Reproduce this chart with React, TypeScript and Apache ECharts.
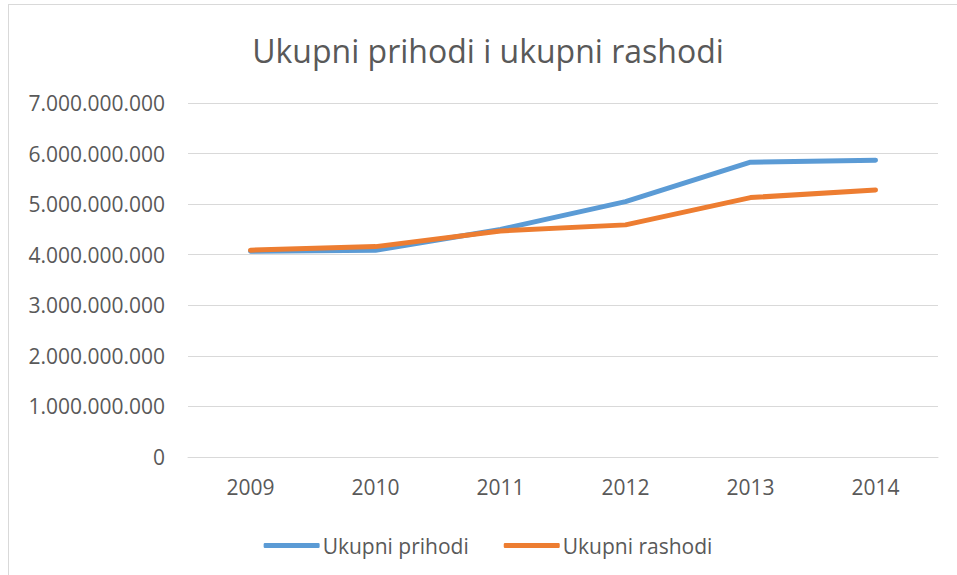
import React, { useEffect, useRef } from "react";
import * as echarts from "echarts";

const years = ["2009", "2010", "2011", "2012", "2013", "2014"];
const prihodi = [4070000000, 4090000000, 4500000000, 5050000000, 5830000000, 5870000000];
const rashodi = [4090000000, 4160000000, 4470000000, 4590000000, 5130000000, 5280000000];
const seriesNames = ["Ukupni prihodi", "Ukupni rashodi"];
const titleText = "Ukupni prihodi i ukupni rashodi";

function fmt(v: number): string {
  return String(Math.round(v)).replace(/\B(?=(\d{3})+(?!\d))/g, ".");
}

export default function App() {
  const ref = useRef<HTMLDivElement>(null);
  useEffect(() => {
    if (!ref.current) return;
    const chart = echarts.init(ref.current, null, { renderer: "svg" });
    const font = "'Open Sans', sans-serif";
    chart.setOption({
      animation: false,
      title: {
        text: titleText,
        left: "center",
        top: 24,
        textStyle: { fontFamily: font, fontSize: 32, fontWeight: "normal", color: "#595959" },
      },
      legend: {
        data: seriesNames,
        left: "center",
        top: 525,
        icon: "roundRect",
        itemWidth: 56,
        itemHeight: 5,
        itemGap: 35,
        textStyle: { fontFamily: font, fontSize: 21, color: "#595959", padding: [0, 0, 0, -2] },
      },
      grid: { left: 179, top: 98, width: 750, height: 354, containLabel: false },
      xAxis: {
        type: "category",
        data: years,
        boundaryGap: true,
        axisLine: { show: true, lineStyle: { color: "#d9d9d9", width: 1 } },
        axisTick: { show: false },
        axisLabel: { fontFamily: font, fontSize: 21, color: "#595959", margin: 19 },
      },
      yAxis: {
        type: "value",
        min: 0,
        max: 7000000000,
        interval: 1000000000,
        axisLine: { show: false },
        axisTick: { show: false },
        splitLine: { lineStyle: { color: "#d9d9d9", width: 1 } },
        axisLabel: {
          fontFamily: font,
          fontSize: 21,
          color: "#595959",
          margin: 23,
          formatter: (v: number) => fmt(v),
        },
      },
      series: [
        {
          name: seriesNames[0],
          type: "line",
          data: prihodi,
          showSymbol: false,
          symbol: "none",
          lineStyle: { color: "#5B9BD5", width: 5, cap: "round", join: "round" },
          itemStyle: { color: "#5B9BD5" },
        },
        {
          name: seriesNames[1],
          type: "line",
          data: rashodi,
          showSymbol: false,
          symbol: "none",
          lineStyle: { color: "#ED7D31", width: 5, cap: "round", join: "round" },
          itemStyle: { color: "#ED7D31" },
        },
      ],
    });
    return () => chart.dispose();
  }, []);

  return (
    <div style={{ position: "fixed", left: 0, top: 0, width: 957, height: 575, overflow: "hidden", background: "#fff" }}>
      <div
        style={{
          position: "absolute",
          left: 8,
          top: 4,
          width: 960,
          height: 590,
          border: "1px solid #d9d9d9",
          boxSizing: "border-box",
          background: "#fff",
        }}
      >
        <div ref={ref} style={{ position: "absolute", left: 0, top: 0, width: 958, height: 588 }} />
      </div>
    </div>
  );
}
